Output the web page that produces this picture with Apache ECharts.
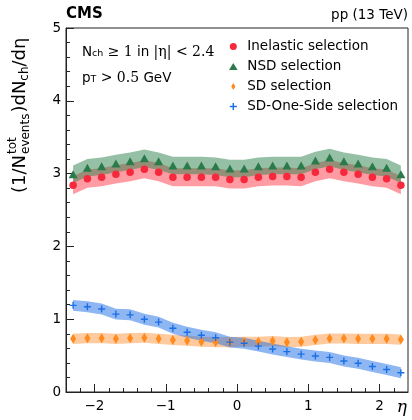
<!DOCTYPE html>
<html><head><meta charset="utf-8">
<script src="https://cdn.jsdelivr.net/npm/echarts@6/dist/echarts.min.js"></script>
<style>html,body{margin:0;padding:0;background:#fff}#c{width:412px;height:420px}</style>
</head><body><div id="c"></div>
<script>
// ---- data ----
const etaCenters = [-2.3,-2.1,-1.9,-1.7,-1.5,-1.3,-1.1,-0.9,-0.7,-0.5,-0.3,-0.1,0.1,0.3,0.5,0.7,0.9,1.1,1.3,1.5,1.7,1.9,2.1,2.3];
const xTickValues = [-2,-1,0,1,2];
const xMinorTicks = [-2.2,-1.8,-1.6,-1.4,-1.2,-0.8,-0.6,-0.4,-0.2,0.2,0.4,0.6,0.8,1.2,1.4,1.6,1.8,2.2];
const yTickValues = [0,1,2,3,4,5];

const inelastic    = [2.84,2.93,2.95,2.99,3.02,3.06,3.02,2.95,2.95,2.95,2.95,2.92,2.92,2.95,2.96,2.96,2.95,3.02,3.06,3.02,2.99,2.95,2.93,2.84];
const inelasticErr = [0.125,0.125,0.125,0.125,0.125,0.125,0.125,0.125,0.125,0.125,0.125,0.125,0.125,0.125,0.125,0.125,0.125,0.125,0.125,0.125,0.125,0.125,0.125,0.125];
const nsd          = [2.99,3.08,3.10,3.14,3.17,3.21,3.17,3.11,3.11,3.11,3.10,3.07,3.07,3.10,3.11,3.11,3.11,3.18,3.22,3.17,3.14,3.10,3.08,2.99];
const nsdErr       = [0.12,0.12,0.12,0.12,0.12,0.12,0.12,0.12,0.12,0.12,0.12,0.12,0.12,0.12,0.12,0.12,0.12,0.12,0.12,0.12,0.12,0.12,0.12,0.12];
const sd           = [0.73,0.74,0.74,0.73,0.74,0.745,0.73,0.715,0.705,0.69,0.685,0.685,0.69,0.69,0.70,0.685,0.69,0.715,0.735,0.735,0.73,0.73,0.73,0.72];
const sdErr        = [0.07,0.07,0.07,0.07,0.07,0.07,0.07,0.07,0.07,0.07,0.07,0.07,0.07,0.07,0.07,0.07,0.07,0.07,0.07,0.07,0.07,0.07,0.07,0.07];
const sdOne        = [1.19,1.17,1.14,1.07,1.06,1.00,0.96,0.875,0.82,0.78,0.745,0.685,0.67,0.63,0.59,0.555,0.52,0.495,0.475,0.425,0.395,0.35,0.31,0.265];
const sdOneErr     = [0.075,0.075,0.075,0.075,0.075,0.075,0.075,0.075,0.075,0.075,0.075,0.075,0.075,0.075,0.075,0.075,0.075,0.075,0.075,0.075,0.075,0.075,0.075,0.075];

const seriesNames = ['Inelastic selection','NSD selection','SD selection','SD-One-Side selection'];

// ---- styling ----
const FONT = 'DejaVu Sans';
const SERIF = 'DejaVu Serif';
const triPath = 'path://M0,-4L4.6,3.5L-4.6,3.5Z';
const diaPath = 'path://M0,-5L3,0L0,5L-3,0Z';
const crossPath = 'path://M-1,-5H1V-1H5V1H1V5H-1V1H-5V-1H-1Z';

function bandSeries(vals, errs, color, z) {
  return {
    type: 'custom', z: z, silent: true, clip: true,
    data: [[0, 0]],
    renderItem: function (params, api) {
      const up = etaCenters.map((x, i) => api.coord([x, vals[i] + errs[i]]));
      const dn = etaCenters.map((x, i) => api.coord([x, vals[i] - errs[i]])).reverse();
      return { type: 'polygon', shape: { points: up.concat(dn) }, style: { fill: color } };
    }
  };
}
function pts(vals) { return etaCenters.map((x, i) => [x, vals[i]]); }

// measure helper for the y-axis title
const mctx = document.createElement('canvas').getContext('2d');
function tw(txt, size) { mctx.font = size + 'px "' + FONT + '"'; return mctx.measureText(txt).width; }

const YS = 18, YSS = 12;
const pA = '(1/N', pB = ')dN', pC = '/d\u03b7';
const wA = tw(pA, YS), wEv = Math.max(tw('events', YSS), tw('tot', YSS)), wB = tw(pB, YS), wCh = tw('ch', YSS);
const ylabChildren = [
  { type: 'text', x: 0, y: 0, style: { text: pA, font: YS + 'px "' + FONT + '"', fill: '#000', verticalAlign: 'middle' } },
  { type: 'text', x: wA + 1, y: -7, style: { text: 'tot', font: YSS + 'px "' + FONT + '"', fill: '#000', verticalAlign: 'middle' } },
  { type: 'text', x: wA + 1, y: 6, style: { text: 'events', font: YSS + 'px "' + FONT + '"', fill: '#000', verticalAlign: 'middle' } },
  { type: 'text', x: wA + wEv + 2, y: 0, style: { text: pB, font: YS + 'px "' + FONT + '"', fill: '#000', verticalAlign: 'middle' } },
  { type: 'text', x: wA + wEv + 2 + wB, y: 5, style: { text: 'ch', font: YSS + 'px "' + FONT + '"', fill: '#000', verticalAlign: 'middle' } },
  { type: 'text', x: wA + wEv + 2 + wB + wCh, y: 0, style: { text: pC, font: YS + 'px "' + FONT + '"', fill: '#000', verticalAlign: 'middle' } }
];

const chart = echarts.init(document.getElementById('c'), null, { renderer: 'canvas' });
const axisLine = { show: true, onZero: false, lineStyle: { color: '#222', width: 1 } };
chart.setOption({
  animation: false,
  backgroundColor: '#fff',
  grid: { left: 66, right: 4, top: 28, bottom: 28, show: true, borderColor: '#222', borderWidth: 1, backgroundColor: 'transparent' },
  xAxis: [
    { type: 'value', min: -2.4, max: 2.4, position: 'bottom', splitLine: { show: false }, axisLine: axisLine,
      axisTick: { show: true, inside: true, length: 8, customValues: xTickValues, lineStyle: { color: '#222' } },
      axisLabel: { customValues: xTickValues, color: '#000', fontSize: 13.5, fontFamily: FONT, margin: 7,
        formatter: v => (v < 0 ? '\u2212' + Math.abs(v) : String(v)) } },
    { type: 'value', min: -2.4, max: 2.4, position: 'bottom', splitLine: { show: false }, axisLine: { show: false, onZero: false },
      axisTick: { show: true, inside: true, length: 4, customValues: xMinorTicks, lineStyle: { color: '#222' } },
      axisLabel: { show: false } }
  ],
  yAxis: [
    { type: 'value', min: 0, max: 5, interval: 1, splitLine: { show: false }, axisLine: axisLine,
      axisTick: { show: true, inside: true, length: 8, lineStyle: { color: '#222' } },
      minorTick: { show: true, splitNumber: 5, length: 4, lineStyle: { color: '#222' } },
      axisLabel: { color: '#000', fontSize: 13.5, fontFamily: FONT, margin: 5 } }
  ],
  legend: {
    left: 224, top: 34, orient: 'vertical', itemWidth: 18, itemHeight: 7, itemGap: 5,
    textStyle: { fontSize: 13.5, fontFamily: FONT, color: '#000', lineHeight: 15 },
    data: [
      { name: seriesNames[0], icon: 'circle' },
      { name: seriesNames[1], icon: triPath },
      { name: seriesNames[2], icon: diaPath },
      { name: seriesNames[3], icon: crossPath }
    ]
  },
  series: [
    bandSeries(inelastic, inelasticErr, 'rgba(255,55,70,0.5)', 1),
    bandSeries(nsd, nsdErr, 'rgba(45,130,75,0.5)', 2),
    bandSeries(sd, sdErr, 'rgba(255,140,40,0.45)', 3),
    bandSeries(sdOne, sdOneErr, 'rgba(30,110,230,0.5)', 4),
    { type: 'scatter', name: seriesNames[0], data: pts(inelastic), symbol: 'circle', symbolSize: 7.5, itemStyle: { color: '#f5283c', opacity: 1 }, z: 10 },
    { type: 'scatter', name: seriesNames[1], data: pts(nsd), symbol: triPath, symbolSize: [9, 8], itemStyle: { color: '#2b7a4b', opacity: 1 }, z: 10 },
    { type: 'scatter', name: seriesNames[2], data: pts(sd), symbol: diaPath, symbolSize: [6, 10], itemStyle: { color: '#ff8a1e', opacity: 1 }, z: 10 },
    { type: 'scatter', name: seriesNames[3], data: pts(sdOne), symbol: crossPath, symbolSize: 7, itemStyle: { color: '#1a6fe6', opacity: 1 }, z: 10 }
  ],
  graphic: [
    { type: 'text', x: 66, y: 22, style: { text: 'CMS', font: 'bold 15px "' + FONT + '"', fill: '#000', verticalAlign: 'bottom' } },
    { type: 'text', x: 408, y: 22, style: { text: 'pp (13 TeV)', font: '13.5px "' + FONT + '"', fill: '#000', align: 'right', verticalAlign: 'bottom' } },
    { type: 'text', x: 82, y: 45, style: {
        text: 'N{sub|ch} {m|\u2265 1} in {m||\u03b7| < 2.4}',
        font: '13.5px "' + FONT + '"', fill: '#000',
        rich: { sub: { fontSize: 9.5, fontFamily: FONT, lineHeight: 4, verticalAlign: 'bottom' },
                m: { fontSize: 14, fontFamily: SERIF } } } },
    { type: 'text', x: 82, y: 71, style: {
        text: 'p{sub|T} {m|> 0.5} GeV',
        font: '13.5px "' + FONT + '"', fill: '#000',
        rich: { sub: { fontSize: 9.5, fontFamily: FONT, lineHeight: 4, verticalAlign: 'bottom' },
                m: { fontSize: 14, fontFamily: SERIF } } } },
    { type: 'text', x: 407, y: 416, style: { text: '\u03b7', font: 'italic 17px "' + SERIF + '"', fill: '#000', align: 'right', verticalAlign: 'bottom' } },
    { type: 'group', x: 20, y: 193, rotation: Math.PI / 2, children: ylabChildren }
  ]
});
</script></body></html>
